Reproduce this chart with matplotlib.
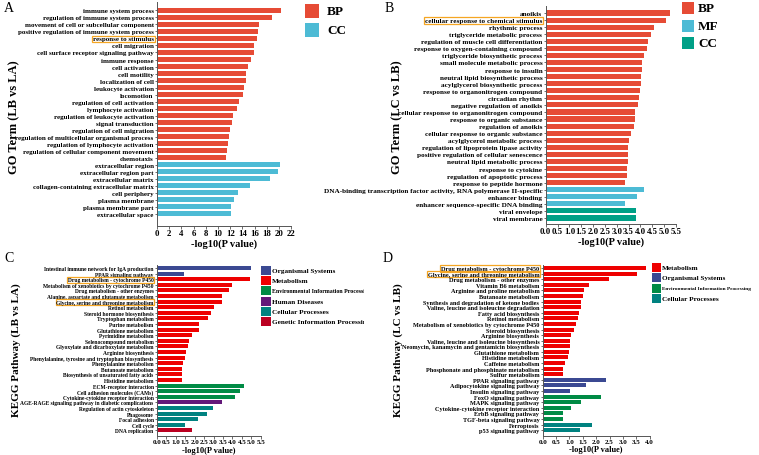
import matplotlib
matplotlib.use("Agg")
import matplotlib.pyplot as plt
from matplotlib.patches import Rectangle
from matplotlib.transforms import Bbox

plt.rcParams['font.family'] = ['Liberation Serif', 'DejaVu Serif']
plt.rcParams['font.weight'] = 'bold'

# ---------------- Panel A data ----------------
a_terms = ["immune system process", "regulation of immune system process",
           "movement of cell or subcellular component", "positive regulation of immune system process",
           "response to stimulus", "cell migration", "cell surface receptor signaling pathway",
           "immune response", "cell activation", "cell motility", "localization of cell",
           "leukocyte activation", "locomotion", "regulation of cell activation",
           "lymphocyte activation", "regulation of leukocyte activation", "signal transduction",
           "regulation of cell migration", "regulation of multicellular organismal process",
           "regulation of lymphocyte activation", "regulation of cellular component movement",
           "chemotaxis", "extracellular region", "extracellular region part", "extracellular matrix",
           "collagen-containing extracellular matrix", "cell periphery", "plasma membrane",
           "plasma membrane part", "extracellular space"]
a_values = [20.36, 18.9, 16.65, 16.54, 16.43, 15.88, 15.83, 15.39, 14.85, 14.52, 14.52,
            14.25, 14.03, 13.37, 13.05, 12.5, 12.34, 11.95, 11.85, 11.57, 11.4, 11.3,
            20.2, 19.87, 18.56, 15.28, 13.2, 12.55, 12.17, 12.06]
a_groups = ["BP"] * 22 + ["CC"] * 8

# ---------------- Panel B data ----------------
b_terms = ["anoikis", "cellular response to chemical stimulus", "rhythmic process",
           "triglyceride metabolic process", "regulation of muscle cell differentiation",
           "response to oxygen-containing compound", "triglyceride biosynthetic process",
           "small molecule metabolic process", "response to insulin",
           "neutral lipid biosynthetic process", "acylglycerol biosynthetic process",
           "response to organonitrogen compound", "circadian rhythm",
           "negative regulation of anoikis", "cellular response to organonitrogen compound",
           "response to organic substance", "regulation of anoikis",
           "cellular response to organic substance", "acylglycerol metabolic process",
           "regulation of lipoprotein lipase activity", "positive regulation of cellular senescence",
           "neutral lipid metabolic process", "response to cytokine",
           "regulation of apoptotic process", "response to peptide hormone",
           "DNA-binding transcription factor activity, RNA polymerase II-specific",
           "enhancer binding", "enhancer sequence-specific DNA binding",
           "viral envelope", "viral membrane"]
b_values = [5.26, 5.09, 4.56, 4.45, 4.32, 4.28, 4.15, 4.05, 4.05, 4.03, 4.03, 4.0, 3.92,
            3.9, 3.78, 3.75, 3.72, 3.58, 3.51, 3.48, 3.48, 3.47, 3.45, 3.44, 3.34,
            4.15, 3.85, 3.33, 3.82, 3.82]
b_groups = ["BP"] * 25 + ["MF"] * 3 + ["CC"] * 2

# ---------------- Panel C data ----------------
c_terms = ["Intestinal immune network for IgA production", "PPAR signaling pathway",
           "Drug metabolism - cytochrome P450", "Metabolism of xenobiotics by cytochrome P450",
           "Drug metabolism - other enzymes", "Alanine, aspartate and glutamate metabolism",
           "Glycine, serine and threonine metabolism", "Retinol metabolism",
           "Steroid hormone biosynthesis", "Tryptophan metabolism", "Purine metabolism",
           "Glutathione metabolism", "Pyrimidine metabolism", "Selenocompound metabolism",
           "Glyoxylate and dicarboxylate metabolism", "Arginine biosynthesis",
           "Phenylalanine, tyrosine and tryptophan biosynthesis", "Phenylalanine metabolism",
           "Butanoate metabolism", "Biosynthesis of unsaturated fatty acids", "Histidine metabolism",
           "ECM-receptor interaction", "Cell adhesion molecules (CAMs)",
           "Cytokine-cytokine receptor interaction",
           "AGE-RAGE signaling pathway in diabetic complications",
           "Regulation of actin cytoskeleton", "Phagosome", "Focal adhesion", "Cell cycle",
           "DNA replication"]
c_values = [4.99, 1.42, 4.94, 3.98, 3.8, 3.43, 3.43, 3.03, 2.85, 2.69, 2.23, 2.21, 1.84,
            1.72, 1.66, 1.56, 1.5, 1.38, 1.35, 1.33, 1.31, 4.64, 4.41, 4.14, 3.43, 2.97,
            2.64, 2.16, 1.49, 1.88]
c_groups = (["Organismal Systems"] * 2 + ["Metabolism"] * 19 +
            ["Environmental Information Processing"] * 3 + ["Human Diseases"] +
            ["Cellular Processes"] * 4 + ["Genetic Information Processing"])

# ---------------- Panel D data ----------------
d_terms = ["Drug metabolism - cytochrome P450", "Glycine, serine and threonine metabolism",
           "Drug metabolism - other enzymes", "Vitamin B6 metabolism",
           "Arginine and proline metabolism", "Butanoate metabolism",
           "Synthesis and degradation of ketone bodies",
           "Valine, leucine and isoleucine degradation", "Fatty acid biosynthesis",
           "Retinol metabolism", "Metabolism of xenobiotics by cytochrome P450",
           "Steroid biosynthesis", "Arginine biosynthesis",
           "Valine, leucine and isoleucine biosynthesis",
           "Neomycin, kanamycin and gentamicin biosynthesis", "Glutathione metabolism",
           "Histidine metabolism", "Caffeine metabolism",
           "Phosphonate and phosphinate metabolism", "Sulfur metabolism",
           "PPAR signaling pathway", "Adipocytokine signaling pathway",
           "Insulin signaling pathway", "FoxO signaling pathway", "MAPK signaling pathway",
           "Cytokine-cytokine receptor interaction", "ErbB signaling pathway",
           "TGF-beta signaling pathway", "Ferroptosis", "p53 signaling pathway"]
d_values = [3.86, 3.51, 2.47, 1.73, 1.56, 1.51, 1.43, 1.42, 1.35, 1.33, 1.26, 1.16, 1.06,
            1.03, 1.03, 0.98, 0.96, 0.82, 0.75, 0.75, 2.38, 1.6, 1.02, 2.19, 1.42, 1.05,
            0.75, 0.75, 1.83, 1.4]
d_groups = (["Metabolism"] * 20 + ["Organismal Systems"] * 3 +
            ["Environmental Information Processing"] * 5 + ["Cellular Processes"] * 2)

go_colors = {"BP": "#E64B35", "MF": "#4DBBD5", "CC": "#00A087"}
a_colors = {"BP": "#E64B35", "CC": "#4DBBD5"}
kegg_colors = {"Organismal Systems": "#3B4992", "Metabolism": "#EE0000",
               "Environmental Information Processing": "#008B45",
               "Human Diseases": "#631879", "Cellular Processes": "#008280",
               "Genetic Information Processing": "#BB0021"}

W, H = 759, 456
fig = plt.figure(figsize=(W / 100, H / 100), dpi=100)
HL = "#F5A623"


def px_axes(x0, y0, x1, y1):
    return fig.add_axes([x0 / W, 1 - y1 / H, (x1 - x0) / W, (y1 - y0) / H])


def draw_panel(ax, terms, values, groups, cmap, xmax, xticks, xtick_labels, ylim,
               label_fs, tick_fs, xlabel_fs, highlight):
    n = len(terms)
    pos = list(range(n))
    ax.barh(pos, values, height=0.72, color=[cmap[g] for g in groups])
    ax.set_xlim(0, xmax)
    ax.set_ylim(*ylim)
    ax.set_yticks(pos)
    ax.set_yticklabels(terms, fontsize=label_fs, fontweight='bold')
    ax.set_xticks(xticks)
    ax.set_xticklabels(xtick_labels, fontsize=tick_fs, fontweight='bold')
    for s in ['top', 'right']:
        ax.spines[s].set_visible(False)
    for s in ['left', 'bottom']:
        ax.spines[s].set_color('#555555')
        ax.spines[s].set_linewidth(0.7)
    ax.tick_params(axis='both', length=1.8, width=0.6, pad=0.6, color='#555555')
    ax.set_xlabel("-log10(P value)", fontsize=xlabel_fs, fontweight='bold', labelpad=1)
    for lab in ax.get_yticklabels():
        if lab.get_text() in highlight:
            lab.set_bbox(dict(boxstyle='square,pad=0.12', fc='none', ec=HL, lw=0.9))


# Panel A
axA = px_axes(157, 3, 291.3, 226.7)
draw_panel(axA, a_terms, a_values, a_groups, a_colors, 22, list(range(0, 23, 2)),
           [str(v) for v in range(0, 23, 2)], (29 + 1.7, -1.2), 5.0, 6.3, 7.5,
           {"response to stimulus"})
# Panel B
bt = [i * 0.5 for i in range(12)]
axB = px_axes(545.7, 7.3, 676, 225)
draw_panel(axB, b_terms, b_values, b_groups, go_colors, 5.5, bt,
           [f"{v:.1f}" for v in bt], (29 + 0.85, -0.95), 5.2, 6.3, 7.5,
           {"cellular response to chemical stimulus"})
# Panel C
axC = px_axes(157, 266, 260.7, 437)
draw_panel(axC, c_terms, c_values, c_groups, kegg_colors, 5.5, bt,
           [f"{v:.1f}" for v in bt], (29 + 1.0, -0.55), 4.0, 5.0, 6.0,
           {"Drug metabolism - cytochrome P450", "Glycine, serine and threonine metabolism"})
# Panel D
dt = [i * 0.5 for i in range(9)]
axD = px_axes(542.7, 266, 649.7, 436.7)
draw_panel(axD, d_terms, d_values, d_groups, kegg_colors, 4.0, dt,
           [f"{v:.1f}" for v in dt], (29 + 1.0, -0.55), 4.5, 5.0, 6.0,
           {"Drug metabolism - cytochrome P450", "Glycine, serine and threonine metabolism"})


def ftext(x, y, s, **kw):
    return fig.text(x / W, 1 - y / H, s, **kw)


def frect(x, y, w, h, color):
    fig.add_artist(Rectangle((x / W, 1 - (y + h) / H), w / W, h / H,
                             transform=fig.transFigure, color=color, lw=0))


# Panel letters
for (x, y, s) in [(4, 9, "A"), (385, 9, "B"), (4, 258, "C"), (383, 258, "D")]:
    ftext(x, y, s, fontsize=10, fontweight='normal', va='center', ha='left')

# y labels
ftext(14, 117, "GO Term (LB vs LA)", rotation=90, fontsize=9, va='center', ha='center', fontweight='bold')
ftext(397, 117, "GO Term (LC vs LB)", rotation=90, fontsize=9, va='center', ha='center', fontweight='bold')
ftext(16, 350, "KEGG Pathway (LB vs LA)", rotation=90, fontsize=8, va='center', ha='center', fontweight='bold')
ftext(398, 350, "KEGG Pathway (LC vs LB)", rotation=90, fontsize=8, va='center', ha='center', fontweight='bold')

# Legend A
for i, g in enumerate(["BP", "CC"]):
    y = 5 + i * 19
    frect(305, y, 14, 14, a_colors[g])
    ftext(327, y + 7, g, fontsize=9.5, va='center', ha='left', fontweight='bold')
# Legend B
for i, g in enumerate(["BP", "MF", "CC"]):
    y = 3 + i * 17.5
    frect(682, y, 12, 12, go_colors[g])
    ftext(698, y + 6, g, fontsize=9.5, va='center', ha='left', fontweight='bold')


def legend_fs(name, small=4.3):
    return small if name == "Environmental Information Processing" else 5.2


# Legend C
clipC = Bbox.from_extents(0, 0, 364, H)
for i, g in enumerate(["Organismal Systems", "Metabolism", "Environmental Information Processing",
                       "Human Diseases", "Cellular Processes", "Genetic Information Processing"]):
    y = 267 + i * 10.2
    frect(261, y, 9.5, 9, kegg_colors[g])
    t = ftext(272, y + 4.5, g, fontsize=legend_fs(g), va='center', ha='left', fontweight='bold')
    t.set_clip_box(clipC)
    t.set_clip_on(True)
# Legend D
for i, g in enumerate(["Metabolism", "Organismal Systems", "Environmental Information Processing",
                       "Cellular Processes"]):
    y = 264 + i * 10.3
    frect(651.5, y, 9.5, 9, kegg_colors[g])
    ftext(662, y + 4.5, g, fontsize=legend_fs(g, 3.8), va='center', ha='left', fontweight='bold')

fig.savefig("out.png", dpi=100)
